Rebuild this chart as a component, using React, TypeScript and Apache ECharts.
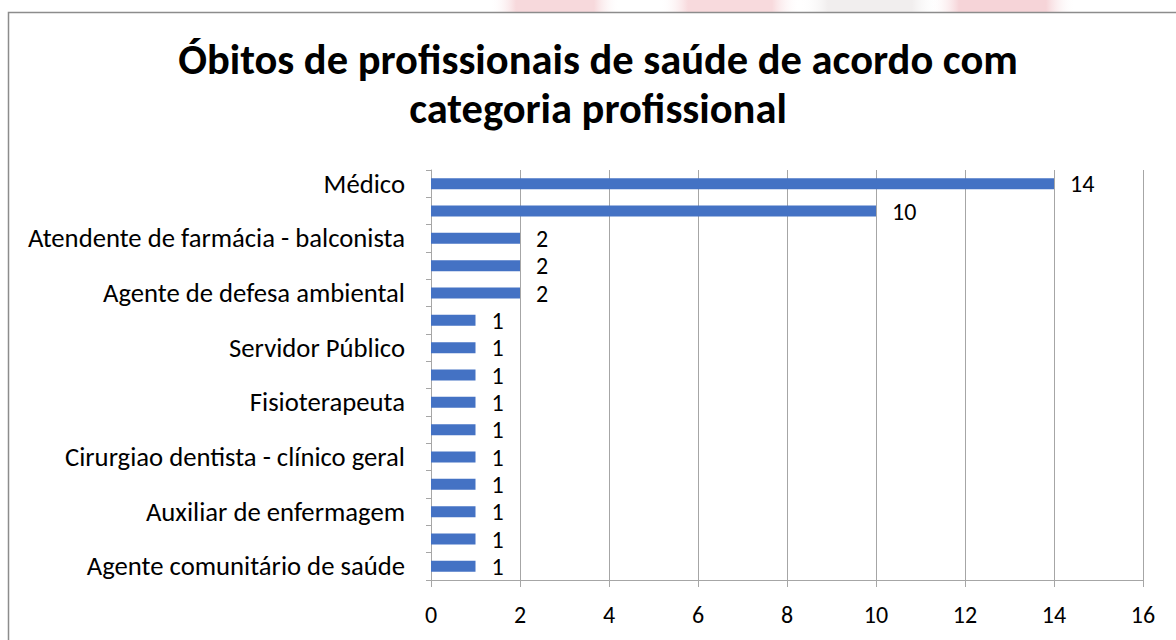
import React, { useEffect, useRef } from "react";
import * as echarts from "echarts";

const titleLines = ["Óbitos de profissionais de saúde de acordo com", "categoria profissional"];

// bottom → top
const categories = [
  "Agente comunitário de saúde",
  "Agente de endemias",
  "Auxiliar de enfermagem",
  "Biomédico",
  "Cirurgiao dentista - clínico geral",
  "Condutor de ambulância",
  "Fisioterapeuta",
  "Psicólogo",
  "Servidor Público",
  "Técnico de laboratório",
  "Agente de defesa ambiental",
  "Farmacêutico",
  "Atendente de farmácia - balconista",
  "Técnico de enfermagem",
  "Médico",
];
const values = [1, 1, 1, 1, 1, 1, 1, 1, 1, 1, 2, 2, 2, 10, 14];
const xTicks = { min: 0, max: 16, interval: 2 };

const FONT = "Carlito, Calibri, Lato, sans-serif";

export default function App() {
  const ref = useRef<HTMLDivElement>(null);
  useEffect(() => {
    const chart = echarts.init(ref.current!, undefined, { renderer: "svg" });
    const band = (x: number, w: number, c: string) => ({
      type: "rect", z: -10, shape: { x, y: 0, width: w, height: 12 },
      style: {
        fill: new echarts.graphic.LinearGradient(0, 0, 1, 0, [
          { offset: 0, color: "rgba(255,255,255,0)" },
          { offset: 0.2, color: c },
          { offset: 0.8, color: c },
          { offset: 1, color: "rgba(255,255,255,0)" },
        ]),
      },
    });
    chart.setOption({
      animation: false,
      backgroundColor: "#ffffff",
      textStyle: { fontFamily: FONT },
      graphic: [
        band(490, 130, "#f7d9dc"),
        band(660, 140, "#f8dadd"),
        band(800, 140, "#f1eeee"),
        band(930, 145, "#f6d4d8"),
        { type: "rect", shape: { x: 8.5, y: 12.5, width: 1300, height: 700 }, style: { fill: "none", stroke: "#8c8c8c", lineWidth: 1.5 } },
        {
          type: "text", x: 598, y: 59,
          style: { text: titleLines[0], font: `bold 42.5px ${FONT}`, fill: "#000", align: "center", verticalAlign: "middle" },
        },
        {
          type: "text", x: 598, y: 108,
          style: { text: titleLines[1], font: `bold 42.5px ${FONT}`, fill: "#000", align: "center", verticalAlign: "middle" },
        },
      ],
      grid: { left: 431, right: 33, top: 170, bottom: 60, containLabel: false },
      xAxis: {
        type: "value",
        min: xTicks.min, max: xTicks.max, interval: xTicks.interval,
        axisLine: { show: true, lineStyle: { color: "#a6a6a6" } },
        axisTick: { show: true, length: 7, lineStyle: { color: "#a6a6a6" } },
        splitLine: { show: true, lineStyle: { color: "#a6a6a6" } },
        axisLabel: { fontSize: 24, color: "#000", margin: 22, fontFamily: FONT },
      },
      yAxis: {
        type: "category",
        data: categories,
        axisLine: { show: true, lineStyle: { color: "#a6a6a6" } },
        axisTick: { show: true, length: 5, interval: 0, lineStyle: { color: "#a6a6a6" } },
        axisLabel: { interval: 1, fontSize: 26.7, lineHeight: 22, color: "#000", margin: 26, fontFamily: FONT },
      },
      series: [
        {
          type: "bar",
          data: values,
          barWidth: 11,
          itemStyle: { color: "#4472c4" },
          label: { show: true, position: "right", distance: 16, fontSize: 24, lineHeight: 20, color: "#000", fontFamily: FONT },
        },
      ],
    });
    return () => chart.dispose();
  }, []);
  return <div ref={ref} style={{ position: "fixed", left: 0, top: 0, width: 1176, height: 640 }} />;
}
